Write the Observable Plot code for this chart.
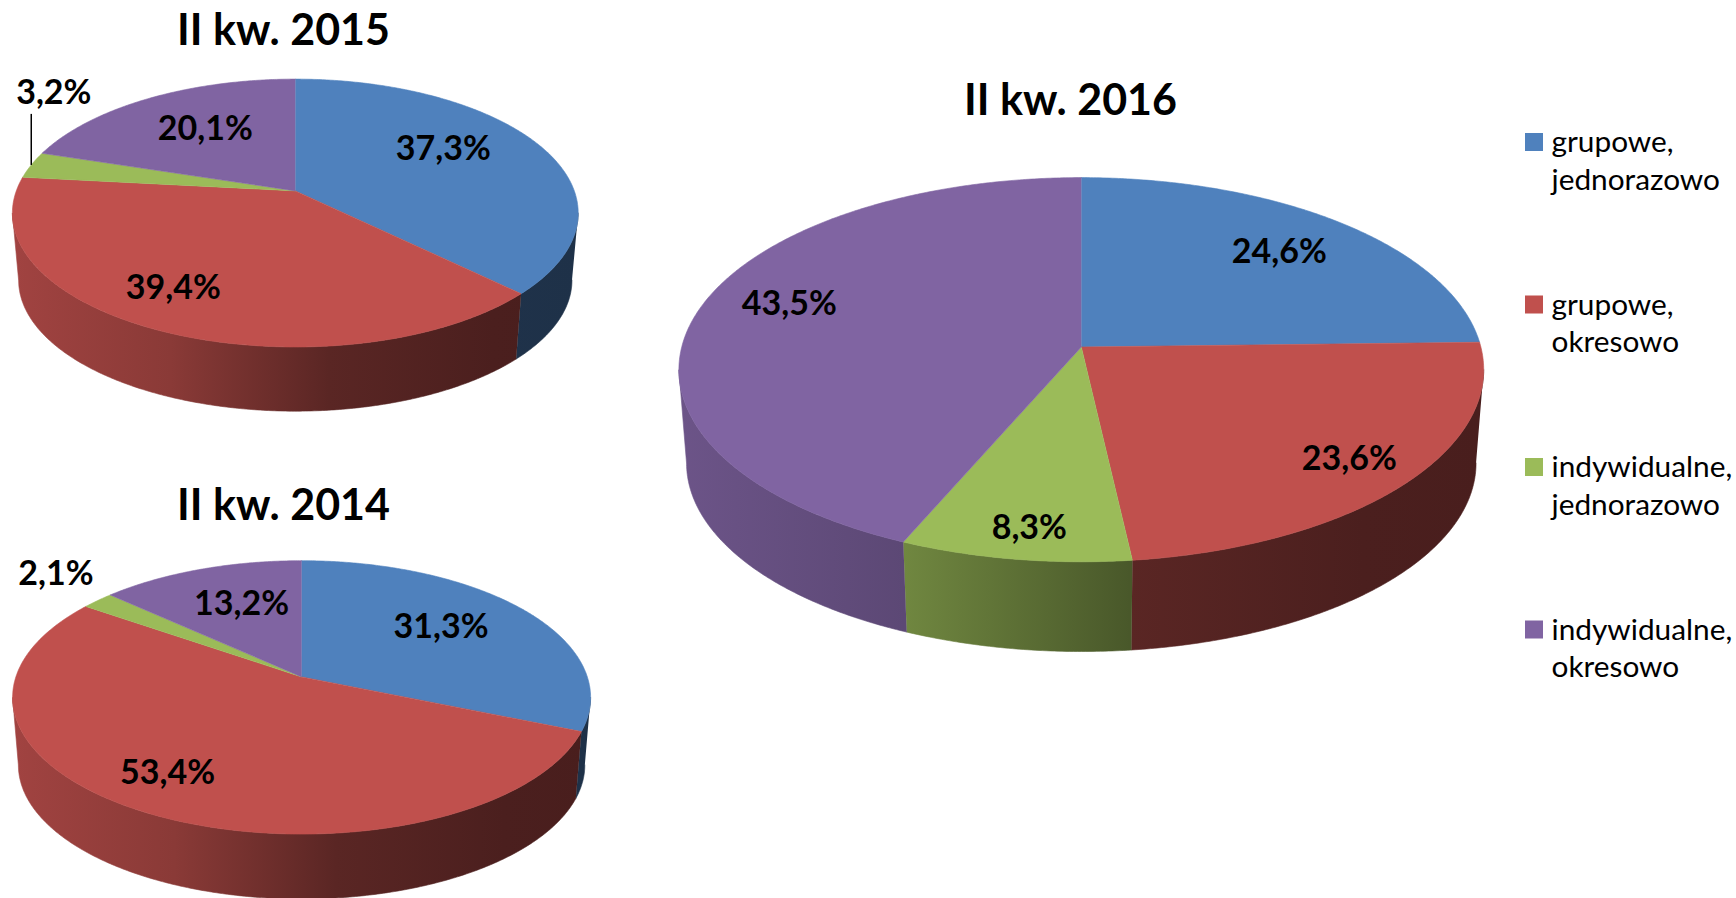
<!DOCTYPE html>
<html lang="pl">
<head>
<meta charset="utf-8">
<title>Struktura</title>
<style>
html,body{margin:0;padding:0;background:#fff;overflow:hidden}
svg{display:block}
</style>
<script src="https://cdn.jsdelivr.net/npm/d3@7"></script>
<script src="https://cdn.jsdelivr.net/npm/@observablehq/plot@0.6"></script>
</head>
<body>
<div id="chart"></div>
<script>
// ---- data ----
const categories = ["grupowe,\njednorazowo", "grupowe,\nokresowo", "indywidualne,\njednorazowo", "indywidualne,\nokresowo"];
const periods = ["II kw. 2015", "II kw. 2014", "II kw. 2016"];
const values2015 = [37.3, 39.4, 3.2, 20.1];
const values2014 = [31.3, 53.4, 2.1, 13.2];
const values2016 = [24.6, 23.6, 8.3, 43.5];

// ---- styles & layout (separate from the data) ----
const palette = ["#4f81bd", "#c0504d", "#9bbb59", "#8064a2"];
const W = 1736, H = 898;
const FONT = "Lato, Carlito, Calibri, sans-serif";
const geometry = [
  {cx: 294.8, cy: 190.4, rx: 282.9, up: 111.8, down: 156.1, depth: 67.6, shrink: 0.978,
   title: [283, 31], offsets: [[148,-42],[-122,97.5],[-241.5,-98],[-90,-61.5]], leader: 2},
  {cx: 301.1, cy: 676.4, rx: 289.0, up: 116.2, down: 157.2, depth: 68, shrink: 0.98,
   title: [283, 506], offsets: [[139.5,-50],[-134,96],[-245.7,-102.5],[-60,-73]]},
  {cx: 1080.8, cy: 346.5, rx: 402.4, up: 169.4, down: 214.8, depth: 93.8, shrink: 0.981,
   title: [1070, 101], offsets: [[198,-95],[268,112],[-52,181.5],[-292,-43]]}
];
const allValues = [values2015, values2014, values2016];

// ---- perspective disc ----
function disc(g) {
  const k = (g.down - g.up) / (g.down + g.up);
  const b = g.down * (1 - k), a = g.rx * Math.sqrt(1 - k * k);
  const P = (deg, bottom) => {
    const t = deg * Math.PI / 180, x = Math.sin(t), y = -Math.cos(t), w = 1 - k * y;
    const s = bottom ? g.shrink : 1;
    return {x: g.cx + s * a * x / w, y: g.cy + s * b * y / w + (bottom ? g.depth : 0)};
  };
  // rim angle where the disc outline is widest: the wall is only seen between these
  P.tangent = Math.acos(-k) * 180 / Math.PI;
  return P;
}
function shade(c, m) { const r = d3.rgb(c); return d3.rgb(r.r * m, r.g * m, r.b * m).formatHex(); }
const stops = [[0, .84], [.28, .72], [.56, .47], [.85, .39], [1, .38]];

const topPolys = [], wallMarks = [], labels = [], leaders = [];
const defs = d3.create("svg:defs");

geometry.forEach((g, gi) => {
  const P = disc(g), vals = allValues[gi], total = d3.sum(vals);
  let acc = 0;
  vals.forEach((v, i) => {
    const a0 = acc / total * 360, a1 = (acc + v) / total * 360; acc += v;
    const n = Math.max(2, Math.ceil((a1 - a0) * 2));
    const arc = d3.range(n + 1).map(j => a0 + (a1 - a0) * j / n);
    const key = `${gi}-${i}`;
    topPolys.push({key, category: categories[i], x: g.cx, y: g.cy});
    arc.forEach(d => topPolys.push({key, category: categories[i], ...P(d, false)}));

    // front wall: the part of this slice's rim facing the viewer
    const f0 = Math.max(a0, P.tangent), f1 = Math.min(a1, 360 - P.tangent);
    if (f1 > f0) {
      const m = Math.max(2, Math.ceil((f1 - f0) * 2));
      const rim = d3.range(m + 1).map(j => f0 + (f1 - f0) * j / m);
      const poly = [...rim.map(d => P(d, false)), ...rim.slice().reverse().map(d => P(d, true))];
      const id = `wall-${key}`;
      const lg = defs.append("linearGradient").attr("id", id)
        .attr("gradientUnits", "userSpaceOnUse")
        .attr("x1", g.cx - g.rx).attr("x2", g.cx + g.rx).attr("y1", 0).attr("y2", 0);
      stops.forEach(([o, m2]) => lg.append("stop").attr("offset", o).attr("stop-color", shade(palette[i], m2)));
      wallMarks.push(Plot.line(poly, {x: "x", y: "y", fill: `url(#${id})`, stroke: `url(#${id})`, strokeWidth: 0.6, curve: "linear"}));
    }

    const [dx, dy] = g.offsets[i];
    labels.push({x: g.cx + dx, y: g.cy + dy, text: v.toFixed(1).replace(".", ",") + "%"});
    if (g.leader === i) {
      const e = P((a0 + a1) / 2, false);
      leaders.push({x1: e.x, y1: e.y, x2: e.x, y2: g.cy + dy + 21});
    }
  });
});

const titles = periods.map((t, i) => ({text: t, x: geometry[i].title[0], y: geometry[i].title[1]}));
const legendX = 1525, legendY = 133, legendStep = 162.5, swatch = 18;
const legend = categories.map((c, i) => ({
  category: c,
  x1: legendX, x2: legendX + swatch,
  y1: legendY + i * legendStep, y2: legendY + i * legendStep + swatch,
  tx: legendX + swatch + 8, ty: legendY - 8 + i * legendStep
}));

const chart = Plot.plot({
  width: W, height: H,
  margin: 0,
  style: {background: "#fff", overflow: "hidden"},
  x: {domain: [0, W], range: [0, W], axis: null},
  y: {domain: [0, H], range: [0, H], axis: null},
  color: {domain: categories, range: palette},
  marks: [
    () => defs.node(),
    ...wallMarks,
    Plot.line(topPolys, {x: "x", y: "y", z: "key", fill: "category", stroke: "category", strokeWidth: 0.6, curve: "linear"}),
    Plot.link(leaders, {x1: "x1", y1: "y1", x2: "x2", y2: "y2", stroke: "#000", strokeWidth: 1.5}),
    Plot.text(labels, {x: "x", y: "y", text: "text", fontFamily: FONT, fontWeight: 700, fontSize: 34, fill: "#000", textAnchor: "middle", lineAnchor: "middle"}),
    Plot.text(titles, {x: "x", y: "y", text: "text", fontFamily: FONT, fontWeight: 700, fontSize: 43, fill: "#000", textAnchor: "middle", lineAnchor: "middle"}),
    Plot.rect(legend, {x1: "x1", x2: "x2", y1: "y1", y2: "y2", fill: "category"}),
    Plot.text(legend, {x: "tx", y: "ty", text: "category", fontFamily: FONT, fontSize: 29.8, fill: "#000", textAnchor: "start", lineAnchor: "top", lineHeight: 1.26})
  ]
});
document.getElementById("chart").appendChild(chart);
</script>
</body>
</html>
